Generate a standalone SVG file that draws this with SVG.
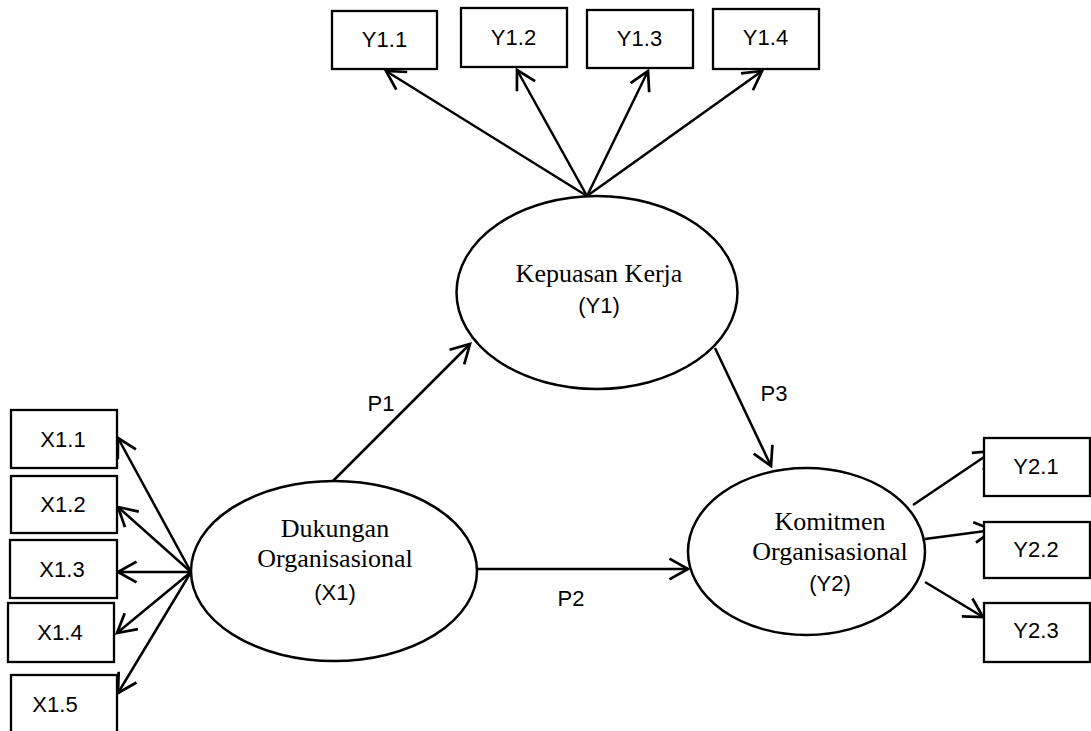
<svg xmlns="http://www.w3.org/2000/svg" width="1091" height="731" viewBox="0 0 1091 731">
<style>
.box{fill:#fff;stroke:#000;stroke-width:2.3}
.ell{fill:#fff;stroke:#000;stroke-width:2.5}
.lbl{font-family:"Liberation Sans",Arial,sans-serif;font-size:22px;fill:#000;text-anchor:middle}
.ser{font-family:"Liberation Serif","Times New Roman",serif;font-size:26px;fill:#000;text-anchor:middle}
.con line{stroke:#000;stroke-width:2.5;marker-end:url(#arr)}
</style>
<defs>
<marker id="arr" markerUnits="userSpaceOnUse" markerWidth="24" markerHeight="24" refX="19" refY="11" orient="auto" viewBox="0 0 22 22">
<path d="M2,1.5 L19,11 L2,20.5" fill="none" stroke="#000" stroke-width="2.5"/>
</marker>
</defs>
<rect width="1091" height="731" fill="#fff"/>
<g id="connectors" class="con">
<line x1="587" y1="196" x2="386" y2="71"/>
<line x1="587" y1="196" x2="517" y2="70"/>
<line x1="587" y1="196" x2="648" y2="71"/>
<line x1="587" y1="196" x2="762" y2="71"/>
<line x1="191" y1="572" x2="118" y2="438"/>
<line x1="191" y1="572" x2="118" y2="507"/>
<line x1="191" y1="572" x2="118" y2="572"/>
<line x1="191" y1="572" x2="117" y2="633"/>
<line x1="191" y1="572" x2="118" y2="693"/>
<line x1="333" y1="481" x2="470" y2="344"/>
<line x1="715" y1="348" x2="771" y2="466"/>
<line x1="477" y1="569" x2="688" y2="569"/>
<line x1="913" y1="505" x2="993" y2="451"/>
<line x1="925" y1="539" x2="993" y2="530"/>
<line x1="925" y1="582" x2="983" y2="617"/>
</g>
<g id="labels">
<text class="lbl" x="381" y="411">P1</text>
<text class="lbl" x="571" y="606">P2</text>
<text class="lbl" x="774" y="401">P3</text>
</g>
<g id="Y1">
<ellipse class="ell" cx="597" cy="292.5" rx="140.5" ry="96.5"/>
<text class="ser" x="599" y="282">Kepuasan Kerja</text>
<text class="lbl" x="599" y="313">(Y1)</text>
</g>
<g id="X1">
<ellipse class="ell" cx="334" cy="571" rx="143" ry="90"/>
<text class="ser" x="335" y="537">Dukungan</text>
<text class="ser" x="335" y="567">Organisasional</text>
<text class="lbl" x="335" y="600">(X1)</text>
</g>
<g id="Y2">
<ellipse class="ell" cx="806.5" cy="551.5" rx="118.5" ry="83.5"/>
<text class="ser" x="830" y="530">Komitmen</text>
<text class="ser" x="830" y="560">Organisasional</text>
<text class="lbl" x="830" y="591">(Y2)</text>
</g>
<g id="Y1_1"><rect class="box" x="332" y="11" width="105" height="58"/><text class="lbl" x="384.5" y="47">Y1.1</text></g>
<g id="Y1_2"><rect class="box" x="461" y="8" width="106" height="59"/><text class="lbl" x="513.5" y="45">Y1.2</text></g>
<g id="Y1_3"><rect class="box" x="587" y="10" width="106" height="58"/><text class="lbl" x="639.5" y="46">Y1.3</text></g>
<g id="Y1_4"><rect class="box" x="713" y="9" width="106" height="60"/><text class="lbl" x="765.5" y="45">Y1.4</text></g>
<g id="X1_1"><rect class="box" x="11" y="410" width="106" height="58"/><text class="lbl" x="63" y="447">X1.1</text></g>
<g id="X1_2"><rect class="box" x="11" y="476" width="106" height="57"/><text class="lbl" x="63" y="512">X1.2</text></g>
<g id="X1_3"><rect class="box" x="10" y="540" width="107" height="58"/><text class="lbl" x="62" y="577">X1.3</text></g>
<g id="X1_4"><rect class="box" x="8" y="603" width="106" height="59"/><text class="lbl" x="60" y="640">X1.4</text></g>
<g id="X1_5"><rect class="box" x="11" y="675" width="106" height="80"/><text class="lbl" x="55" y="712">X1.5</text></g>
<g id="Y2_1"><rect class="box" x="984" y="438" width="106" height="58"/><text class="lbl" x="1036" y="474">Y2.1</text></g>
<g id="Y2_2"><rect class="box" x="984" y="522" width="106" height="56"/><text class="lbl" x="1036" y="557">Y2.2</text></g>
<g id="Y2_3"><rect class="box" x="984" y="603" width="106" height="59"/><text class="lbl" x="1036" y="638">Y2.3</text></g>
</svg>
